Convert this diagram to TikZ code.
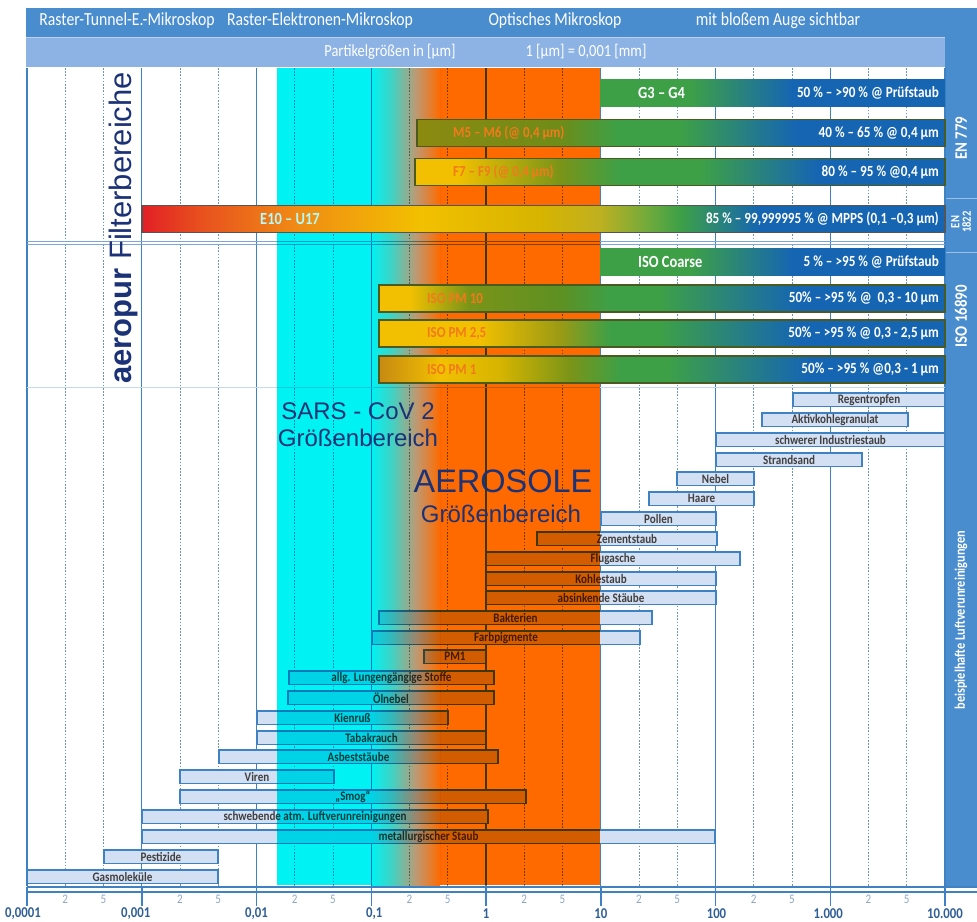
\documentclass[tikz,border=0pt]{standalone}
\usepackage{fontspec}
\setmainfont{Carlito}
\newfontfamily\condfont{Carlito}[FakeStretch=0.85]
\newfontfamily\arialfont{Liberation Sans}
\usetikzlibrary{positioning}

\begin{document}
\begin{tikzpicture}[x=1pt, y=-1pt,
    headtext/.style={text=white, font=\condfont\fontsize{18.5}{19}\selectfont, inner sep=0pt},
    unittext/.style={text=white, font=\condfont\fontsize{17}{17}\selectfont, inner sep=0pt},
    majorline/.style={draw=gridBlue, line width=1.3pt},
    minorline/.style={draw=dotBlue, line width=1pt, dash pattern=on 1.6pt off 1.6pt},
    rowline/.style={draw=gridBlue!70, line width=0.9pt},
    contam/.style={draw=gridBlue, fill=barFill, line width=1.3pt, inner sep=0pt, outer sep=0pt, minimum height=13.5pt, text=black!75, font=\condfont\bfseries\fontsize{13}{13}\selectfont},
    filterbar/.style={inner sep=0pt, outer sep=0pt, minimum height=27pt},
    filteredge/.style={draw=#1, line width=1.2pt},
    filterrate/.style={text=white, font=\condfont\bfseries\fontsize{15.5}{16}\selectfont, inner sep=0pt, anchor=east},
    filtername/.style={text=white, font=\condfont\bfseries\fontsize{17}{17}\selectfont, inner sep=0pt, anchor=west},
    orangename/.style={text=labelOrange, font=\condfont\bfseries\fontsize{15.3}{16}\selectfont, inner sep=0pt, anchor=west},
    sidelabel/.style={text=white, font=\condfont\bfseries\fontsize{17.5}{18}\selectfont, rotate=90, inner sep=0pt},
    bigtext/.style={text=textNavy, anchor=base, inner sep=0pt},
    minorlabel/.style={text=tickGrey, font=\condfont\fontsize{13}{13}\selectfont, inner sep=0pt},
    majorlabel/.style={text=axisBlue, font=\condfont\bfseries\fontsize{15}{15}\selectfont, inner sep=0pt}]
    % Define colours
    \definecolor{headBlue}{HTML}{4A8DCF}
    \definecolor{unitBlue}{HTML}{8DB3E5}
    \definecolor{gridBlue}{HTML}{3F82C4}
    \definecolor{dotBlue}{HTML}{6C92BE}
    \definecolor{barFill}{HTML}{D3DFF3}
    \definecolor{sarsCyan}{HTML}{00F2F2}
    \definecolor{aeroOrange}{HTML}{FF6A00}
    \definecolor{textNavy}{HTML}{1C3276}
    \definecolor{axisBlue}{HTML}{2F5E96}
    \definecolor{tickGrey}{HTML}{8FA6C4}
    \definecolor{labelOrange}{HTML}{F27A1C}
    \definecolor{fGreen}{HTML}{3DA047}
    \definecolor{fBlue}{HTML}{1565B3}
    \definecolor{fYellow}{HTML}{F2C000}
    \definecolor{fOlive}{HTML}{8C8A10}
    \definecolor{mOlive}{HTML}{6E8C18}
    \definecolor{fRed}{HTML}{E21F26}
    \definecolor{eRed}{HTML}{E8501E}
    \definecolor{eOrange}{HTML}{F08C14}
    \definecolor{eGold}{HTML}{D6B400}
    \definecolor{eOlive}{HTML}{C0B020}
    \definecolor{eLime}{HTML}{6EAA3C}
    \definecolor{pmOlive}{HTML}{7A9418}
    \definecolor{pmGreen}{HTML}{5E9022}
    \definecolor{pmKhaki}{HTML}{9A9A14}
    \definecolor{pmAmber}{HTML}{C68A12}
    \definecolor{edgeOlive}{HTML}{4A5A20}
    \definecolor{edgeGrey}{HTML}{555555}
    \definecolor{midTeal}{HTML}{40D2C4}
    \definecolor{midTan}{HTML}{C09870}

    % Define filter shadings
    \pgfdeclarehorizontalshading{coarseShade}{100bp}{color(0bp)=(fGreen); color(25bp)=(fGreen); color(38bp)=(fGreen); color(53bp)=(fBlue); color(100bp)=(fBlue)}
    \pgfdeclarehorizontalshading{mShade}{100bp}{color(0bp)=(fOlive); color(25bp)=(fOlive); color(38.5bp)=(mOlive); color(44bp)=(fGreen); color(50bp)=(fGreen); color(61bp)=(fBlue); color(100bp)=(fBlue)}
    \pgfdeclarehorizontalshading{fShade}{100bp}{color(0bp)=(fYellow); color(25bp)=(fYellow); color(29bp)=(fYellow); color(38.7bp)=(pmOlive); color(44.3bp)=(fGreen); color(52bp)=(fGreen); color(63bp)=(fBlue); color(100bp)=(fBlue)}
    \pgfdeclarehorizontalshading{eShade}{100bp}{color(0bp)=(fRed); color(25bp)=(fRed); color(28.6bp)=(eRed); color(34.8bp)=(eOrange); color(42.3bp)=(fYellow); color(49.8bp)=(eGold); color(53.4bp)=(eOlive); color(56.6bp)=(eLime); color(58.5bp)=(fGreen); color(63.5bp)=(fBlue); color(100bp)=(fBlue)}
    \pgfdeclarehorizontalshading{pmTenShade}{100bp}{color(0bp)=(fYellow); color(25bp)=(fYellow); color(27.7bp)=(fYellow); color(33bp)=(pmOlive); color(41bp)=(pmGreen); color(45.4bp)=(fGreen); color(49.8bp)=(fGreen); color(62.2bp)=(fBlue); color(100bp)=(fBlue)}
    \pgfdeclarehorizontalshading{pmTwoShade}{100bp}{color(0bp)=(fYellow); color(25bp)=(fYellow); color(33.9bp)=(fYellow); color(41bp)=(pmKhaki); color(45.4bp)=(fGreen); color(49.8bp)=(fGreen); color(62.2bp)=(fBlue); color(100bp)=(fBlue)}
    \pgfdeclarehorizontalshading{pmOneShade}{100bp}{color(0bp)=(pmAmber); color(25bp)=(pmAmber); color(30.4bp)=(fYellow); color(35.7bp)=(eGold); color(41.9bp)=(pmOlive); color(46.3bp)=(fGreen); color(50.5bp)=(fGreen); color(63bp)=(fBlue); color(100bp)=(fBlue)}
    \pgfdeclarehorizontalshading{bandShade}{100bp}{color(0bp)=(sarsCyan); color(25bp)=(sarsCyan); color(40bp)=(midTeal); color(58bp)=(midTan); color(75bp)=(aeroOrange); color(100bp)=(aeroOrange)}

    % Define axis scale
    \def\xZero{27}
    \def\decade{114.75}

    \useasboundingbox (0,0) rectangle (977,921);

    % Header bands and side column
    \fill[headBlue] (26,8) rectangle (977,37);
    \fill[unitBlue] (26,37) rectangle (945,67);
    \draw[white!40!unitBlue, line width=1.5pt] (26,37.5) -- (945,37.5);
    \fill[headBlue] (945,37) rectangle (977,886);
    \draw[white!45!headBlue, line width=1pt] (945,198) -- (977,198);
    \draw[white!45!headBlue, line width=1pt] (945,252) -- (977,252);

    \node[headtext] (hdrTunnel) at (127,21) {Raster-Tunnel-E.-Mikroskop};
    \node[headtext] (hdrElectron) at (320,21) {Raster-Elektronen-Mikroskop};
    \node[headtext] (hdrOptic) at (555,21) {Optisches Mikroskop};
    \node[headtext] (hdrEye) at (778,21) {mit bloßem Auge sichtbar};
    \node[unittext] (unitSize) at (390,52) {Partikelgrößen in [µm]};
    \node[unittext] (unitConv) at (586,52) {1 [µm] = 0,001 [mm]};

    % Draw grid
    \foreach \k in {0,...,8} {
        \pgfmathsetmacro{\xMajor}{\xZero+\decade*\k}
        \draw[majorline] (\xMajor,68) -- (\xMajor,886);
    }
    \foreach \k in {0,...,7} {
        \foreach \f in {1,2} {
            \pgfmathsetmacro{\xMinor}{\xZero+\decade*(\k+\f/3)}
            \draw[minorline] (\xMinor,68) -- (\xMinor,886);
        }
    }
    \draw[rowline] (27,241) -- (945,241);
    \draw[rowline] (27,244.5) -- (945,244.5);
    \draw[rowline, draw=gridBlue!30] (27,387) -- (945,387);

    % Example contaminations
    \foreach \xa/\xb/\yt/\lbl [count=\i] in {
        793/945/393/Regentropfen,
        762/908/413/Aktivkohlegranulat,
        716/945/433/schwerer Industriestaub,
        716/862/453/Strandsand,
        677/754/472/Nebel,
        649/754/492/Haare,
        601/716/512/Pollen,
        537/717/532/Zementstaub,
        486/740/552/Flugasche,
        486/716/572/Kohlestaub,
        486/716/591/absinkende Stäube,
        379/652/611/Bakterien,
        372/640/631/Farbpigmente,
        424/486/650/PM1,
        289/494/671/allg. Lungengängige Stoffe,
        288/494/691/Ölnebel,
        257/448/711/Kienruß,
        257/486/731/Tabakrauch,
        219/498/750/Asbeststäube,
        180/334/770/Viren,
        180/526/790/„Smog“,
        142/488/810/schwebende atm. Luftverunreinigungen,
        142/715/830/metallurgischer Staub,
        104/218/850/Pestizide,
        27/218/870/Gasmoleküle} {
        \pgfmathsetmacro{\xc}{(\xa+\xb)/2}
        \pgfmathsetmacro{\barWidth}{\xb-\xa}
        \node[contam, minimum width=\barWidth pt] (contam\i) at (\xc,\yt+6.75) {\lbl};
    }

    % Size ranges of SARS-CoV-2 and aerosols
    \begin{scope}[blend mode=multiply]
        \fill[sarsCyan] (277,68) rectangle (371,885);
        \shade[shading=bandShade] (371,68) rectangle (440,885);
        \fill[aeroOrange] (440,68) rectangle (600,885);
    \end{scope}

    % Filter classes EN 779 and EN 1822
    \node[filterbar, shading=coarseShade, minimum width=345pt] (gThree) at (772.5,93) {};
    \node[filterbar, shading=mShade, filteredge=edgeOlive, minimum width=528pt] (mFive) at (681,133) {};
    \node[filterbar, shading=fShade, filteredge=edgeOlive, minimum width=530pt] (fSeven) at (680,172) {};
    \node[filterbar, shading=eShade, filteredge=edgeGrey, minimum width=803pt] (eTen) at (543.5,219) {};

    \node[filtername] (gThreeName) at ([xshift=38pt]gThree.west) {G3 – G4};
    \node[filterrate] (gThreeRate) at ([xshift=-6pt]gThree.east) {50 \% – >90 \% @ Prüfstaub};
    \node[orangename] (mFiveName) at ([xshift=36pt]mFive.west) {M5 – M6 (@ 0,4 µm)};
    \node[filterrate] (mFiveRate) at ([xshift=-6pt]mFive.east) {40 \% – 65 \% @ 0,4 µm};
    \node[orangename] (fSevenName) at ([xshift=38pt]fSeven.west) {F7 – F9 (@ 0,4 µm)};
    \node[filterrate] (fSevenRate) at ([xshift=-6pt]fSeven.east) {80 \% – 95 \% @0,4 µm};
    \node[filtername, text=white!70!sarsCyan] (eTenName) at ([xshift=118pt]eTen.west) {E10 – U17};
    \node[filterrate] (eTenRate) at ([xshift=-6pt]eTen.east) {85 \% – 99,999995 \% @ MPPS (0,1 –0,3 µm)};

    % Filter classes ISO 16890
    \node[filterbar, shading=coarseShade, minimum width=345pt] (isoCoarse) at (772.5,262) {};
    \node[filterbar, shading=pmTenShade, filteredge=edgeOlive, minimum width=566pt] (pmTen) at (662,298.5) {};
    \node[filterbar, shading=pmTwoShade, filteredge=edgeOlive, minimum width=566pt] (pmTwo) at (662,333.5) {};
    \node[filterbar, shading=pmOneShade, filteredge=edgeOlive, minimum width=566pt] (pmOne) at (662,369.5) {};

    \node[filtername] (isoCoarseName) at ([xshift=38pt]isoCoarse.west) {ISO Coarse};
    \node[filterrate] (isoCoarseRate) at ([xshift=-6pt]isoCoarse.east) {5 \% – >95 \% @ Prüfstaub};
    \node[orangename] (pmTenName) at ([xshift=48pt]pmTen.west) {ISO PM 10};
    \node[filterrate] (pmTenRate) at ([xshift=-6pt]pmTen.east) {50\% – >95 \% @ \ 0,3 - 10 µm};
    \node[orangename] (pmTwoName) at ([xshift=48pt]pmTwo.west) {ISO PM 2,5};
    \node[filterrate] (pmTwoRate) at ([xshift=-6pt]pmTwo.east) {50\% – >95 \% @ 0,3 - 2,5 µm};
    \node[orangename] (pmOneName) at ([xshift=48pt]pmOne.west) {ISO PM 1};
    \node[filterrate] (pmOneRate) at ([xshift=-6pt]pmOne.east) {50\% – >95 \% @0,3 - 1 µm};

    % Side column labels
    \node[sidelabel] (enSeven) at (961,138) {EN 779};
    \node[sidelabel, font=\condfont\bfseries\fontsize{12.5}{11.5}\selectfont, align=center] (enEighteen) at (961,222) {EN\\1822};
    \node[sidelabel] (isoLabel) at (961,316) {ISO 16890};
    \node[sidelabel, font=\condfont\bfseries\fontsize{14.5}{15}\selectfont] (exampleLabel) at (961,620) {beispielhafte Luftverunreinigungen};

    % Large titles
    \node[bigtext, rotate=90, font=\arialfont\fontsize{31}{31}\selectfont] (filterTitle) at (131,228) {\textbf{aeropur} Filterbereiche};
    \node[bigtext, font=\arialfont\fontsize{24}{24}\selectfont] (sarsTitle) at (358,419) {SARS - CoV 2};
    \node[bigtext, font=\arialfont\fontsize{24}{24}\selectfont] (sarsRange) at (358,446) {Größenbereich};
    \node[bigtext, font=\arialfont\fontsize{32.5}{33}\selectfont] (aeroTitle) at (503,492) {AEROSOLE};
    \node[bigtext, font=\arialfont\fontsize{24}{24}\selectfont] (aeroRange) at (501,522) {Größenbereich};

    % Draw axis
    \draw[majorline, line width=1.5pt] (\xZero,887) -- (977,887);
    \draw[majorline, line width=1.5pt] (\xZero,892) -- (977,892);
    \foreach \k/\dx/\lbl in {0/-4/{0,0001}, 1/-6/{0,001}, 2/0/{0,01}, 3/3/{0,1}, 4/0/1, 5/0/10, 6/1/100, 7/-2/{1.000}, 8/0/{10.000}} {
        \pgfmathsetmacro{\xMajor}{\xZero+\decade*\k}
        \draw[majorline, line width=1.5pt] (\xMajor,887) -- (\xMajor,906);
        \node[majorlabel] (axisLabel\k) at (\xMajor+\dx,914) {\lbl};
    }
    \foreach \k in {0,...,7} {
        \pgfmathsetmacro{\xTwo}{\xZero+\decade*(\k+1/3)}
        \pgfmathsetmacro{\xFive}{\xZero+\decade*(\k+2/3)}
        \node[minorlabel] (twoLabel\k) at (\xTwo,899) {2};
        \node[minorlabel] (fiveLabel\k) at (\xFive,899) {5};
    }
\end{tikzpicture}
\end{document}
